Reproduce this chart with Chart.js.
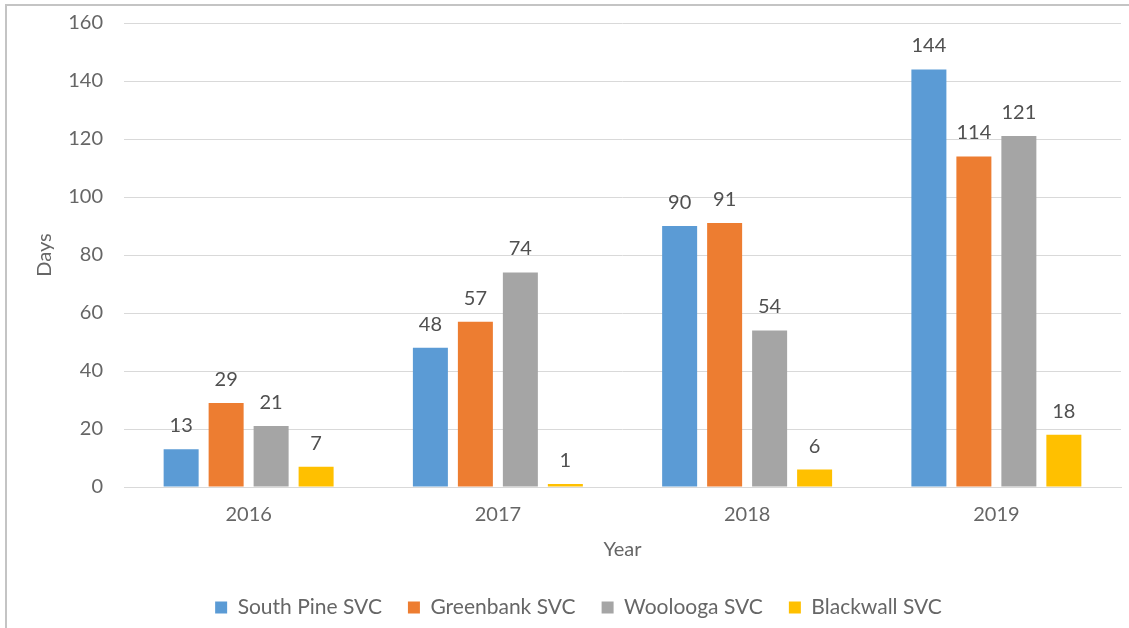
<!DOCTYPE html>
<html>
<head>
<meta charset="utf-8">
<script src="https://cdn.jsdelivr.net/npm/chart.js@4.4.0/dist/chart.umd.min.js"></script>
<style>
  body { margin: 0; background: #fff; }
  #wrap { position: relative; width: 1129px; height: 628px; }
  #frame { position: absolute; left: 5px; top: 4px; right: 0; bottom: 0;
           border-top: 2px solid #c4c4c4; border-left: 2px solid #c4c4c4; }
  #myChart { position: absolute; left: 0; top: 0; }
</style>
</head>
<body>
<div id="wrap">
  <div id="frame"></div>
  <canvas id="myChart" width="1129" height="628"></canvas>
</div>
<script>
const years = ["2016", "2017", "2018", "2019"]
const southPine = [13, 48, 90, 144]
const greenbank = [29, 57, 91, 114]
const woolooga = [21, 74, 54, 121]
const blackwall = [7, 1, 6, 18]
const yTicks = [0, 20, 40, 60, 80, 100, 120, 140, 160]

const fontFamily = 'Lato, "Liberation Sans", sans-serif'
Chart.defaults.font.family = fontFamily
Chart.defaults.font.size = 20
Chart.defaults.color = '#666666'

// numbers printed above each bar
const valueLabels = {
    id: 'valueLabels',
    afterDatasetsDraw(chart) {
        const ctx = chart.ctx
        ctx.save()
        ctx.font = '20px ' + fontFamily
        ctx.fillStyle = '#505050'
        ctx.textAlign = 'center'
        ctx.textBaseline = 'alphabetic'
        chart.data.datasets.forEach((ds, i) => {
            chart.getDatasetMeta(i).data.forEach((bar, j) => {
                ctx.fillText(ds.data[j], bar.x, bar.y - 17)
            })
        })
        ctx.restore()
    }
}

// nudge the legend row a little to the right, under the plot
const legendShift = {
    id: 'legendShift',
    afterLayout(chart) {
        chart.legend.left += 28
    }
}

const makeSet = (label, data, color) => ({
    label: label,
    data: data,
    backgroundColor: color,
    borderWidth: 0,
    categoryPercentage: 0.722,
    barPercentage: 0.778
})

const data = {
    labels: years,
    datasets: [
        makeSet('South Pine SVC', southPine, '#5B9BD5'),
        makeSet('Greenbank SVC', greenbank, '#ED7D31'),
        makeSet('Woolooga SVC', woolooga, '#A5A5A5'),
        makeSet('Blackwall SVC', blackwall, '#FFC000')
    ]
}

const config = {
    type: 'bar',
    data: data,
    plugins: [valueLabels, legendShift],
    options: {
        responsive: false,
        animation: false,
        layout: { padding: { left: 8, right: 8, top: 0, bottom: 0 } },
        plugins: {
            tooltip: { enabled: false },
            legend: {
                position: 'bottom',
                labels: {
                    boxWidth: 12,
                    boxHeight: 12,
                    padding: 26,
                    color: '#666666',
                    font: { size: 21 }
                }
            }
        },
        scales: {
            x: {
                grid: { display: false, drawTicks: false },
                border: { display: true, color: '#d9d9d9', width: 1 },
                ticks: { padding: 16, color: '#666666' },
                title: { display: true, text: 'Year', color: '#666666', font: { size: 20 }, padding: { top: 0, bottom: 9 } },
                afterFit: (scale) => { scale.height = 84 }
            },
            y: {
                min: 0,
                max: 160,
                grid: { color: '#d9d9d9', drawTicks: false },
                border: { display: false },
                afterBuildTicks: (scale) => { scale.ticks = yTicks.map(v => ({ value: v })) },
                ticks: { padding: 21, color: '#666666' },
                title: { display: true, text: 'Days', color: '#666666', font: { size: 20 }, padding: { top: 25, bottom: 0 } },
                afterFit: (scale) => {
                    scale.width = 116
                    scale.paddingTop = 23
                }
            }
        }
    }
}

const ctx = document.getElementById('myChart')
new Chart(ctx, config)
</script>
</body>
</html>
